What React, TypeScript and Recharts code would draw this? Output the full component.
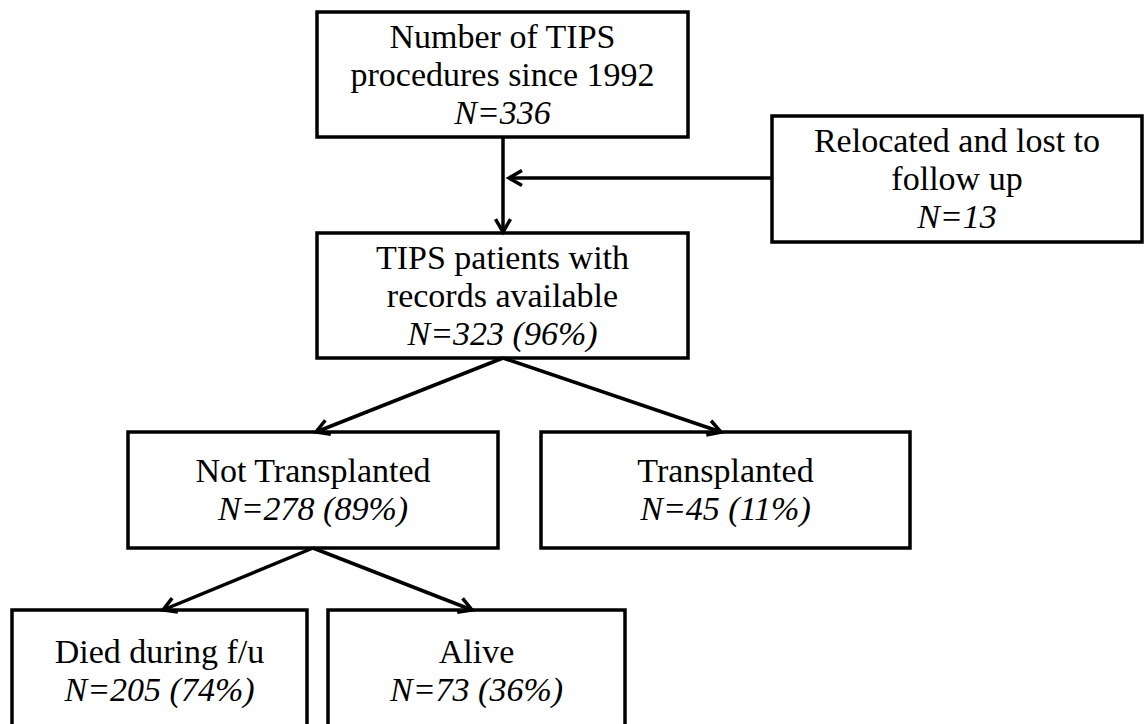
import React from 'react';
import { ScatterChart, XAxis, YAxis, ReferenceArea, ReferenceLine, Scatter } from 'recharts';

// Flow-chart nodes (in data units of a 1144 x 724 canvas)
const nodeTitles: string[][] = [
  ['Number of TIPS', 'procedures since 1992'],
  ['Relocated and lost to', 'follow up'],
  ['TIPS patients with', 'records available'],
  ['Not Transplanted'],
  ['Transplanted'],
  ['Died during f/u'],
  ['Alive'],
];
const nodeCounts: string[] = ['N=336', 'N=13', 'N=323 (96%)', 'N=278 (89%)', 'N=45 (11%)', 'N=205 (74%)', 'N=73 (36%)'];
const nodeLeft: number[] = [317, 772, 317, 128, 541, 12, 328];
const nodeRight: number[] = [688, 1142, 688, 498, 910, 307, 625];
const nodeTop: number[] = [12, 116, 233, 432, 432, 610, 610];
const nodeBottom: number[] = [137, 242, 358, 548, 548, 732, 732];

// Arrows: from -> to
const arrowFromX: number[] = [503, 772, 503, 503, 313, 313];
const arrowFromY: number[] = [137, 178, 358, 358, 548, 548];
const arrowToX: number[] = [503, 509, 316, 721, 163, 472];
const arrowToY: number[] = [232, 178, 432, 432, 610, 610];

const centers = nodeLeft.map((l, i) => ({ x: (l + nodeRight[i]) / 2, y: (nodeTop[i] + nodeBottom[i]) / 2 }));

const FONT = '"Liberation Serif", "Times New Roman", serif';
const FONT_SIZE = 34;
const LINE_GAP = 38;
const CAP = 22;

const makeBoxShape = (i: number) => (props: any) => {
  const { x, y, width, height } = props;
  const lines = [...nodeTitles[i], nodeCounts[i]];
  const n = lines.length;
  const cx = x + width / 2;
  const cy = y + height / 2;
  const first = cy - ((n - 1) * LINE_GAP) / 2 + CAP / 2;
  return (
    <g>
      <rect x={x} y={y} width={width} height={height} fill="#ffffff" stroke="#000000" strokeWidth={3.5} />
      {lines.map((t, k) => (
        <text
          key={k}
          x={cx}
          y={first + k * LINE_GAP}
          textAnchor="middle"
          fontFamily={FONT}
          fontSize={FONT_SIZE}
          fontStyle={k === n - 1 ? 'italic' : 'normal'}
          fill="#000000"
        >
          {t}
        </text>
      ))}
    </g>
  );
};

const ArrowShape = (props: any) => {
  const { x1, y1, x2, y2 } = props;
  const ang = Math.atan2(y2 - y1, x2 - x1);
  const L = 15;
  const a = Math.PI / 6;
  const p1x = x2 - L * Math.cos(ang - a);
  const p1y = y2 - L * Math.sin(ang - a);
  const p2x = x2 - L * Math.cos(ang + a);
  const p2y = y2 - L * Math.sin(ang + a);
  return (
    <g>
      <line x1={x1} y1={y1} x2={x2} y2={y2} stroke="#000000" strokeWidth={3.5} />
      <polyline
        points={`${p1x},${p1y} ${x2},${y2} ${p2x},${p2y}`}
        fill="none"
        stroke="#000000"
        strokeWidth={3.5}
        strokeLinejoin="miter"
      />
    </g>
  );
};

export default function App() {
  return (
    <div style={{ position: 'absolute', left: 0, top: 0, width: 1144, height: 724, background: '#ffffff' }}>
      <ScatterChart width={1144} height={724} margin={{ top: 0, right: 0, bottom: 0, left: 0 }}>
        <XAxis type="number" dataKey="x" domain={[0, 1144]} hide allowDataOverflow />
        <YAxis type="number" dataKey="y" domain={[0, 724]} reversed hide allowDataOverflow />
        <Scatter data={centers} isAnimationActive={false} shape={() => <g />} />
        {arrowFromX.map((fx, i) => (
          <ReferenceLine
            key={`a${i}`}
            segment={[
              { x: fx, y: arrowFromY[i] },
              { x: arrowToX[i], y: arrowToY[i] },
            ]}
            ifOverflow="visible"
            shape={ArrowShape}
          />
        ))}
        {nodeLeft.map((l, i) => (
          <ReferenceArea
            key={`b${i}`}
            x1={l}
            x2={nodeRight[i]}
            y1={nodeTop[i]}
            y2={nodeBottom[i]}
            ifOverflow="visible"
            shape={makeBoxShape(i)}
          />
        ))}
      </ScatterChart>
    </div>
  );
}
